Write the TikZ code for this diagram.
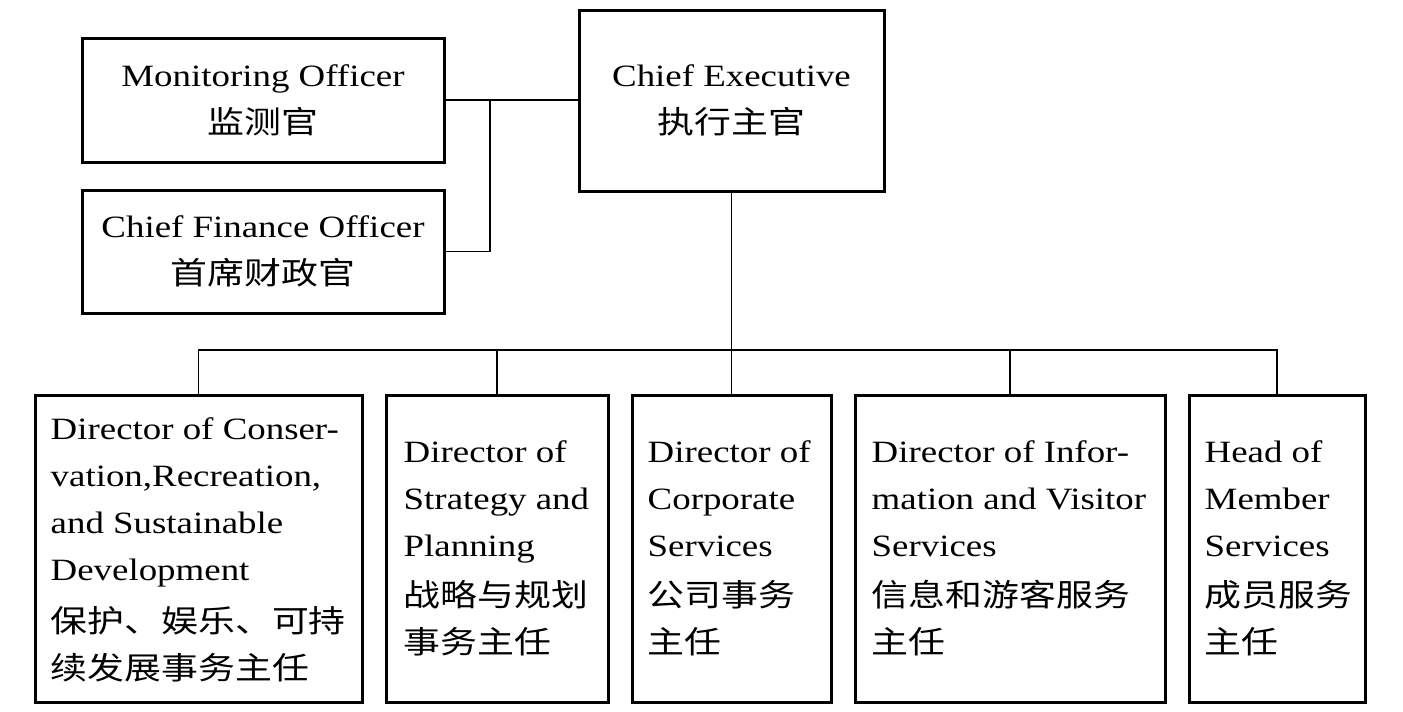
\documentclass[tikz,border=0pt]{standalone}
\usepackage{fontspec}
\setmainfont{Liberation Serif}[FakeStretch=1.19]
\newfontfamily\cjk{Noto Sans CJK SC}[FakeStretch=1.19]
\begin{document}
\begin{tikzpicture}[x=1pt,y=-1pt,
  box/.style={draw=black,line width=3pt,rectangle,inner sep=0pt},
  txt/.style={font=\fontsize{31}{47}\selectfont,inner sep=0pt},
  ctxt/.style={txt,align=center},
  ltxt/.style={txt,align=left,anchor=west},
  conn/.style={draw=black,line width=1.8pt}]
\useasboundingbox[fill=white] (0,0) rectangle (1403,712);
% top boxes
\node[box,minimum width=362pt,minimum height=124pt] (mo) at (263,100) {};
\node[ctxt] (mot) at (mo.center) {Monitoring Officer\\{\cjk 监测官}};
\node[box,minimum width=362pt,minimum height=123pt] (cfo) at (263,251.5) {};
\node[ctxt] (cfot) at (cfo.center) {Chief Finance Officer\\{\cjk 首席财政官}};
\node[box,minimum width=305pt,minimum height=181pt] (ce) at (731.5,100.5) {};
\node[ctxt] (cet) at (ce.center) {Chief Executive\\{\cjk 执行主官}};
% bottom boxes
\node[box,minimum width=327pt,minimum height=307pt] (b1) at (198.5,548.5) {};
\node[box,minimum width=222pt,minimum height=307pt] (b2) at (497,548.5) {};
\node[box,minimum width=199pt,minimum height=307pt] (b3) at (731.5,548.5) {};
\node[box,minimum width=310pt,minimum height=307pt] (b4) at (1010,548.5) {};
\node[box,minimum width=176pt,minimum height=307pt] (b5) at (1277,548.5) {};
\node[ltxt] (b1t) at ([xshift=17pt,yshift=-1pt]b1.west) {Director of Conser-\\vation,Recreation,\\and Sustainable\\Development\\[5pt]{\cjk 保护、娱乐、可持}\\{\cjk 续发展事务主任}};
\node[ltxt] (b2t) at ([xshift=19pt]b2.west) {Director of\\Strategy and\\Planning\\[3pt]{\cjk 战略与规划}\\{\cjk 事务主任}};
\node[ltxt] (b3t) at ([xshift=17pt]b3.west) {Director of\\Corporate\\Services\\[3pt]{\cjk 公司事务}\\{\cjk 主任}};
\node[ltxt] (b4t) at ([xshift=18pt]b4.west) {Director of Infor-\\mation and Visitor\\Services\\[3pt]{\cjk 信息和游客服务}\\{\cjk 主任}};
\node[ltxt] (b5t) at ([xshift=17pt]b5.west) {Head of\\Member\\Services\\[3pt]{\cjk 成员服务}\\{\cjk 主任}};
% connectors
\coordinate (j) at (490,100);
\coordinate (bus) at (733,350);
\draw[conn] (mo.east) -- (mo.east -| ce.west);
\draw[conn] (j) |- (cfo.east);
\draw[conn] (ce.south) -- (ce.south |- bus);
\draw[conn] (b1.north) |- (b5.north |- bus) -- (b5.north);
\draw[conn] (b2.north) -- (b2.north |- bus);
\draw[conn] (b3.north) -- (b3.north |- bus);
\draw[conn] (b4.north) -- (b4.north |- bus);
\end{tikzpicture}
\end{document}
